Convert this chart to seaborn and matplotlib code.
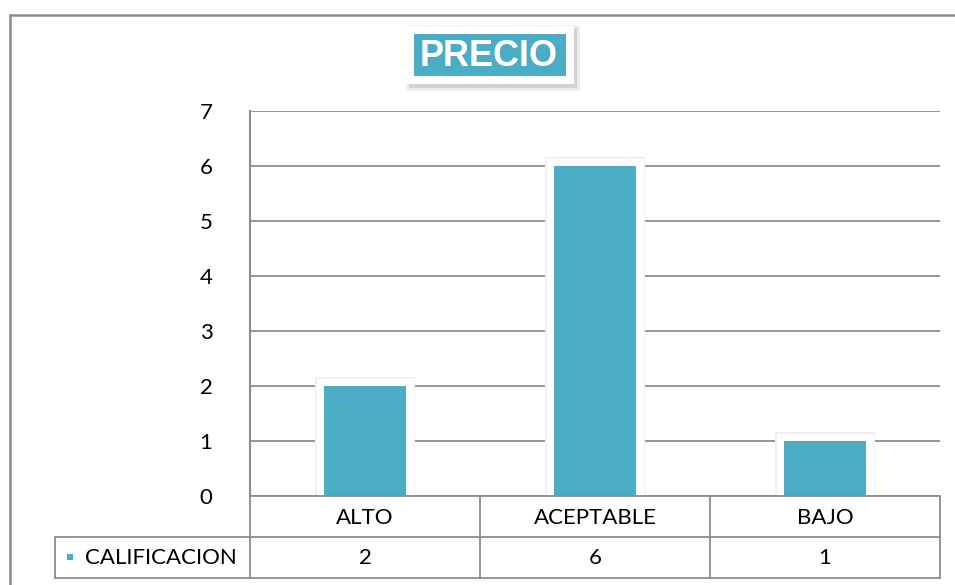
import matplotlib
matplotlib.use("Agg")
import matplotlib.pyplot as plt
import matplotlib.patheffects as pe
from matplotlib.patches import Rectangle
from matplotlib.lines import Line2D
import seaborn as sns
import pandas as pd

categories = ["ALTO", "ACEPTABLE", "BAJO"]
values = [2, 6, 1]
series_name = "CALIFICACION"
title = "PRECIO"
y_ticks = [0, 1, 2, 3, 4, 5, 6, 7]

TEAL = "#4BACC6"
GRID = "#8c8c8c"
W, H = 955, 585

sns.set_theme(style="white")
plt.rcParams["font.family"] = ["Lato", "DejaVu Sans"]

fig = plt.figure(figsize=(W / 100, H / 100), dpi=100)
fig.patch.set_facecolor("white")


def fx(px):
    return px / W


def fy(py):
    return 1 - py / H


# plot area
left, right, top, bottom = 250, 940, 111, 496
ax = fig.add_axes([fx(left), fy(bottom), fx(right - left), (bottom - top) / H])
df = pd.DataFrame({"cat": categories, "val": values})
sns.barplot(data=df, x="cat", y="val", color=TEAL, saturation=1, width=0.36,
            ax=ax, zorder=3)
ax.set_xlim(-0.5, len(categories) - 0.5)
ax.set_ylim(0, max(y_ticks))
ax.set_yticks(y_ticks)
ax.yaxis.grid(True, color=GRID, linewidth=1.3, zorder=0)
ax.set_axisbelow(True)
ax.set_xticks([])
ax.set_xlabel("")
ax.set_ylabel("")
ax.tick_params(axis="y", length=0, pad=27, labelsize=16, labelcolor="black")
for s in ["top", "right", "bottom"]:
    ax.spines[s].set_visible(False)
ax.spines["left"].set_color(GRID)
ax.spines["left"].set_linewidth(1.5)
ax.spines["left"].set_zorder(5)

for bar in ax.patches:
    bar.set_edgecolor("none")
    bar.set_path_effects([
        pe.Stroke(linewidth=13, foreground="#efefef"),
        pe.Stroke(linewidth=11, foreground="white"),
        pe.Normal(),
    ])

# outer frame (top and left)
fig.add_artist(Line2D([fx(10), fx(W)], [fy(15), fy(15)], color=GRID, lw=1.8))
fig.add_artist(Line2D([fx(10), fx(10)], [fy(15), fy(H)], color=GRID, lw=1.8))

# data table
col_edges = [250, 480, 710, 940]
row_h0, row_h1, row_h2 = 496, 537, 578
lw_t = 1.3
fig.add_artist(Line2D([fx(250), fx(940)], [fy(row_h0), fy(row_h0)], color=GRID, lw=lw_t))
for yy in (row_h1, row_h2):
    fig.add_artist(Line2D([fx(55), fx(940)], [fy(yy), fy(yy)], color=GRID, lw=lw_t))
for xx in col_edges:
    fig.add_artist(Line2D([fx(xx), fx(xx)], [fy(row_h0), fy(row_h2)], color=GRID, lw=lw_t))
fig.add_artist(Line2D([fx(55), fx(55)], [fy(row_h1), fy(row_h2)], color=GRID, lw=lw_t))

for i, (c, v) in enumerate(zip(categories, values)):
    cx = (col_edges[i] + col_edges[i + 1]) / 2
    fig.text(fx(cx), fy((row_h0 + row_h1) / 2 + 1), c, ha="center", va="center",
             fontsize=16, color="black")
    fig.text(fx(cx), fy((row_h1 + row_h2) / 2 + 1), str(v), ha="center", va="center",
             fontsize=16, color="black")

fig.add_artist(Rectangle((fx(67), fy(560)), fx(6), 6 / H, facecolor=TEAL,
                         edgecolor="none"))
fig.text(fx(85), fy((row_h1 + row_h2) / 2 + 1), series_name, ha="left", va="center",
         fontsize=16, color="black")

# title box with soft shadow
fig.add_artist(Rectangle((fx(409), fy(88)), fx(168), 60 / H, facecolor="#cfcfcf",
                         edgecolor="none", alpha=0.8,
                         path_effects=[pe.Stroke(linewidth=4, foreground="#e6e6e6"),
                                       pe.Normal()]))
fig.add_artist(Rectangle((fx(406), fy(84)), fx(168), 58 / H, facecolor="white",
                         edgecolor="none"))
fig.add_artist(Rectangle((fx(414), fy(76)), fx(152), 42 / H, facecolor=TEAL,
                         edgecolor="none"))
fig.text(fx(489), fy(56), title, ha="center", va="center", fontsize=26,
         fontweight="bold", color="white", family=["Liberation Sans", "DejaVu Sans"])

fig.savefig("out.png", dpi=100, facecolor="white")
